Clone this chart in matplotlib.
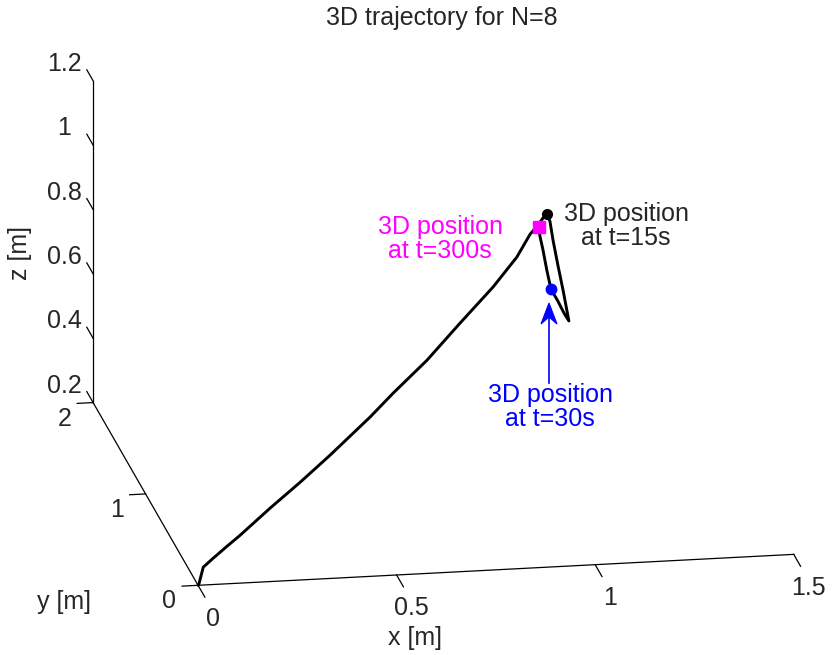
import numpy as np
import matplotlib
matplotlib.use("Agg")
import matplotlib.pyplot as plt
from matplotlib.patches import Polygon
from mpl_toolkits.mplot3d import proj3d

# ---- trajectory of the vehicle [m] ----
traj_x = [0.000, 0.003, 0.015, 0.044, 0.084, 0.122, 0.209, 0.296, 0.383, 0.499,
          0.566, 0.664, 0.760, 0.856, 0.925, 0.963, 0.986, 1.001, 1.012, 1.021,
          1.030, 1.044, 1.059, 1.070, 1.076, 1.062, 1.044, 1.024, 1.012, 1.001,
          0.992, 0.989]
traj_y = [0.000, 0.003, 0.015, 0.044, 0.084, 0.122, 0.209, 0.296, 0.383, 0.499,
          0.566, 0.664, 0.760, 0.856, 0.925, 0.963, 0.986, 1.001, 1.012, 1.021,
          1.030, 1.044, 1.059, 1.070, 1.076, 1.062, 1.044, 1.024, 1.012, 1.001,
          0.992, 0.989]
traj_z = [0.200, 0.205, 0.251, 0.269, 0.292, 0.313, 0.367, 0.417, 0.471, 0.549,
          0.600, 0.668, 0.750, 0.829, 0.898, 0.955, 0.976, 0.993, 1.001, 0.976,
          0.914, 0.832, 0.749, 0.683, 0.647, 0.676, 0.720, 0.764, 0.827, 0.893,
          0.940, 0.969]

# positions at selected instants [m]
pos_t15 = (1.012, 1.012, 1.001)
pos_t30 = (1.024, 1.024, 0.764)
pos_t300 = (0.989, 0.989, 0.969)

# ---- axes ----
x_lim = (0.0, 1.5)
y_lim = (0.0, 2.0)
z_lim = (0.2, 1.2)
x_ticks = [0, 0.5, 1, 1.5]
y_ticks = [0, 1, 2]
z_ticks = [0.2, 0.4, 0.6, 0.8, 1.0, 1.2]
x_tick_labels = ["0", "0.5", "1", "1.5"]
y_tick_labels = ["0", "1", "2"]
z_tick_labels = ["0.2", "0.4", "0.6", "0.8", "1", "1.2"]
title_text = "3D trajectory for N=8"

W, H = 838, 655
plt.rcParams["font.family"] = ["Liberation Sans", "DejaVu Sans"]
plt.rcParams["font.size"] = 18
TXT = "#262626"

fig = plt.figure(figsize=(W / 100, H / 100), dpi=100)
ax = fig.add_axes([0.05, 0.05, 0.9, 0.9], projection="3d", proj_type="ortho",
                  computed_zorder=False)
ax.view_init(elev=17.5, azim=-99.8)
ax.set_box_aspect((604.8, 617.0, 337.6))
ax.set_xlim(*x_lim)
ax.set_ylim(*y_lim)
ax.set_zlim(*z_lim)
ax.set_axis_off()

# axis lines (open box: x front, y left, z back-left)
lk = dict(color="black", lw=0.9, zorder=1)
ax.plot(x_lim, [y_lim[0]] * 2, [z_lim[0]] * 2, **lk)
ax.plot([x_lim[0]] * 2, y_lim, [z_lim[0]] * 2, **lk)
ax.plot([x_lim[0]] * 2, [y_lim[1]] * 2, z_lim, **lk)

# tick marks
for v in x_ticks:
    ax.plot([v, v], [y_lim[0], y_lim[0] - 0.13], [z_lim[0]] * 2, **lk)
for v in y_ticks:
    ax.plot([x_lim[0], x_lim[0] - 0.04], [v, v], [z_lim[0]] * 2, **lk)
for v in z_ticks:
    ax.plot([x_lim[0]] * 2, [y_lim[1], y_lim[1] + 0.12], [v, v], **lk)

# tick labels
tk = dict(color=TXT, ha="center", va="center", fontsize=18)
for v, s in zip(x_ticks, x_tick_labels):
    ax.text(v - 0.01, y_lim[0] - 0.362, z_lim[0], s, **tk)
for v, s in zip(y_ticks, y_tick_labels):
    ax.text(x_lim[0] - 0.072, v, z_lim[0] - 0.045, s, **tk)
for v, s in zip(z_ticks, z_tick_labels):
    ax.text(x_lim[0] - 0.047, y_lim[1] + 0.195, v, s, **tk)

# axis labels
ax.text(0.457, -0.675, z_lim[0], "x [m]", **tk)
ax.text(-0.337, 0.0, 0.169, "y [m]", **tk)
ax.text(-0.184, y_lim[1], 0.678, "z [m]", zdir="z", **tk)

# trajectory and markers
ax.plot(traj_x, traj_y, traj_z, color="black", lw=2.1, zorder=3,
        solid_capstyle="round", solid_joinstyle="round")
ax.plot(*[[c] for c in pos_t15], "o", color="black", ms=7, zorder=4)
ax.plot(*[[c] for c in pos_t30], "o", color="blue", ms=7.5, zorder=4)
ax.plot(*[[c] for c in pos_t300], "s", color="#FF00FF", ms=8, zorder=5)

# place the axes box so the frame corners sit where intended (pixels, top-left origin)
corners_3d = np.array([[0, 0, 0.2], [1.5, 0, 0.2], [0, 2, 0.2], [0, 2, 1.2]], float)
corners_px = np.array([[198, 585], [794, 554], [93, 403], [93, 81]], float)
target = np.column_stack([corners_px[:, 0], H - corners_px[:, 1]])


def project(pts):
    px, py, _ = proj3d.proj_transform(pts[:, 0], pts[:, 1], pts[:, 2], ax.get_proj())
    return ax.transData.transform(np.column_stack([px, py]))


for _ in range(3):
    fig.canvas.draw()
    cur = project(corners_3d)
    mc, mt = cur.mean(axis=0), target.mean(axis=0)
    k = np.sum((cur - mc) * (target - mt)) / np.sum((cur - mc) ** 2)
    b = mt - k * mc
    bb = ax.get_position().transformed(fig.transFigure)
    x0, y0 = k * bb.x0 + b[0], k * bb.y0 + b[1]
    ax.set_position([x0 / W, y0 / H, k * bb.width / W, k * bb.height / H])

# title and annotations (figure pixels, top-left origin)
def fpt(x, y):
    return (x / W, 1 - y / H)


fig.text(*fpt(442, 18), title_text, ha="center", va="center", color=TXT, fontsize=18)
fig.text(*fpt(440, 239), "3D position\nat t=300s", ha="center", va="center",
         color="#FF00FF", fontsize=18, linespacing=1.05)
fig.text(*fpt(626, 226), "3D position\nat t=15s", ha="center", va="center",
         color=TXT, fontsize=18, linespacing=1.05)
fig.text(*fpt(550, 407), "3D position\nat t=30s", ha="center", va="center",
         color="blue", fontsize=18, linespacing=1.05)

# arrow with a notched head pointing at the t=30s marker
shaft_x, shaft_top, shaft_bot = 549, 316, 383
fig.add_artist(plt.Line2D(*zip(fpt(shaft_x, shaft_bot), fpt(shaft_x, shaft_top)),
                          transform=fig.transFigure, color="blue", lw=1.2))
head = [fpt(shaft_x, 303), fpt(shaft_x - 8, 324), fpt(shaft_x, 317),
        fpt(shaft_x + 8, 324)]
fig.add_artist(Polygon(head, closed=True, transform=fig.transFigure,
                       facecolor="blue", edgecolor="blue", lw=0.8))

fig.savefig("out.png", dpi=100, facecolor="white")
